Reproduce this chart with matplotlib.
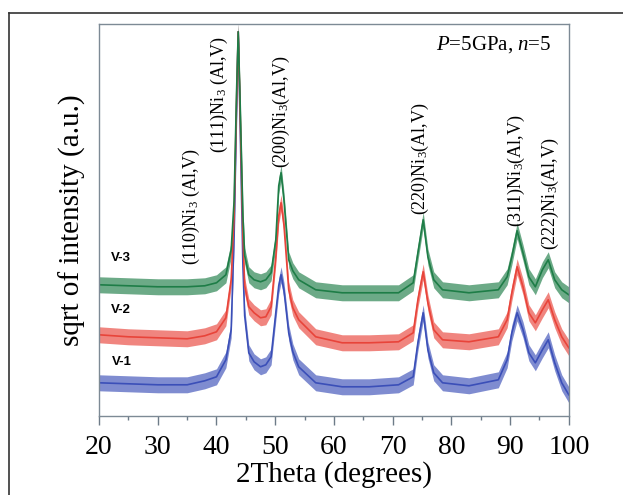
import matplotlib
matplotlib.use("Agg")
import matplotlib.pyplot as plt
from matplotlib.lines import Line2D
import numpy as np

plt.rcParams['font.family'] = ['Liberation Serif', 'DejaVu Serif']
plt.rcParams['mathtext.fontset'] = 'custom'
plt.rcParams['mathtext.rm'] = 'Liberation Serif'
plt.rcParams['mathtext.it'] = 'Liberation Serif:italic'

two_theta = [20, 25, 30, 35, 38, 40, 41.6, 42.5, 43.0, 43.4, 43.7, 44.0,
             44.5, 44.8, 45.5, 46.4, 47.5, 48.4, 49.3, 50.1, 50.6, 51.0, 51.5, 52.3,
             53.0, 54.0, 56.9, 61.4, 66, 71, 73.5, 74.3, 75.2, 76.0, 77.0, 78.5,
             83, 88, 89.5, 90.3, 91.2, 92.2, 93.2, 94.3, 95.5, 96.5, 97.6, 98.8, 100]

# sqrt of intensity (a.u., offset stacked)
v1 = [33, 32, 31, 31, 35, 39, 56, 86, 180, 300, 384, 300,
      150, 100, 63, 54, 49, 51, 59, 103, 130, 141, 125, 83,
      64, 49, 33, 29, 29, 31, 39, 73, 103, 66, 43, 33,
      30, 36, 56, 83, 103, 86, 63, 53, 66, 76, 53, 33, 21]
v2 = [81, 79, 78, 77, 80, 84, 98, 136, 200, 310, 384, 310,
      180, 130, 109, 103, 98, 99, 109, 159, 200, 213, 190, 126,
      108, 96, 79, 73, 73, 74, 83, 116, 144, 113, 86, 76,
      74, 79, 96, 123, 149, 129, 103, 93, 106, 116, 96, 79, 68]
v3 = [131, 130, 129, 129, 130, 133, 141, 166, 215, 320, 384, 320,
      200, 160, 141, 136, 134, 136, 143, 176, 230, 243, 215, 156,
      145, 136, 126, 123, 123, 123, 133, 163, 196, 159, 136, 126,
      123, 126, 139, 159, 185, 163, 139, 129, 146, 156, 136, 126, 121]
series = [v1, v2, v3]
series_names = ["V-1", "V-2", "V-3"]
noise_halfwidth = [8, 8, 8]   # visual thickness of the noisy band

# peak labels
peak_labels = [r"(110)Ni$_3$ (Al,V)", r"(111)Ni$_3$ (Al,V)", r"(200)Ni$_3$(Al,V)",
               r"(220)Ni$_3$(Al,V)", r"(311)Ni$_3$(Al,V)", r"(222)Ni$_3$(Al,V)"]
peak_label_x = [35.7, 40.5, 51.1, 74.8, 91.1, 96.8]
peak_label_y = [151, 263, 248, 201, 189, 166]

colors = ["#3b4fb8", "#e8443a", "#1e7d47"]
name_x = [23.9, 23.7, 23.8]
name_y = [54, 106, 158]

fig = plt.figure(figsize=(6.23, 4.95), dpi=100)
ax = fig.add_axes([0.159, 0.160, 0.754, 0.792])

x = np.array(two_theta)
for vals, c, hw in zip(series, colors, noise_halfwidth):
    y = np.array(vals)
    ax.fill_between(x, y - hw, y + hw, color=c, alpha=0.65, lw=0)
    ax.plot(x, y, color=c, lw=1.2)

for name, nx, ny in zip(series_names, name_x, name_y):
    ax.text(nx, ny, name, fontsize=9.5, fontweight='bold', family='Liberation Sans',
            ha='center', va='center')

for lab, lx, ly in zip(peak_labels, peak_label_x, peak_label_y):
    ax.text(lx, ly, lab, rotation=90, fontsize=13, ha='center', va='bottom')

ax.text(97.1, 371, r"$P$=5GPa, $n$=5", fontsize=15, ha='right', va='center')

ax.set_xlim(20, 100)
ax.set_ylim(0, 392)
ax.set_xticks(range(20, 101, 10))
ax.set_xticks(range(25, 100, 10), minor=True)
ax.set_yticks([])
ax.tick_params(axis='x', which='major', direction='out', length=6.5, width=1,
               color='#6d7b88', labelsize=20, pad=7)
ax.tick_params(axis='x', which='minor', direction='out', length=3.2, width=1,
               color='#6d7b88')
for s in ax.spines.values():
    s.set_color('#7d8a95')
    s.set_linewidth(1)

ax.set_xlabel("2Theta (degrees)", fontsize=21, labelpad=1)
ax.set_ylabel("sqrt of intensity (a.u.)", fontsize=21)
ax.yaxis.set_label_coords(-0.027, 0.5)

# outer frame of the figure panel
fig.add_artist(Line2D([9 / 623, 1], [1 - 13 / 495, 1 - 13 / 495], color='#333333', lw=1.2))
fig.add_artist(Line2D([9 / 623, 9 / 623], [0, 1 - 13 / 495], color='#333333', lw=1.2))

fig.savefig("out.png", dpi=100)
